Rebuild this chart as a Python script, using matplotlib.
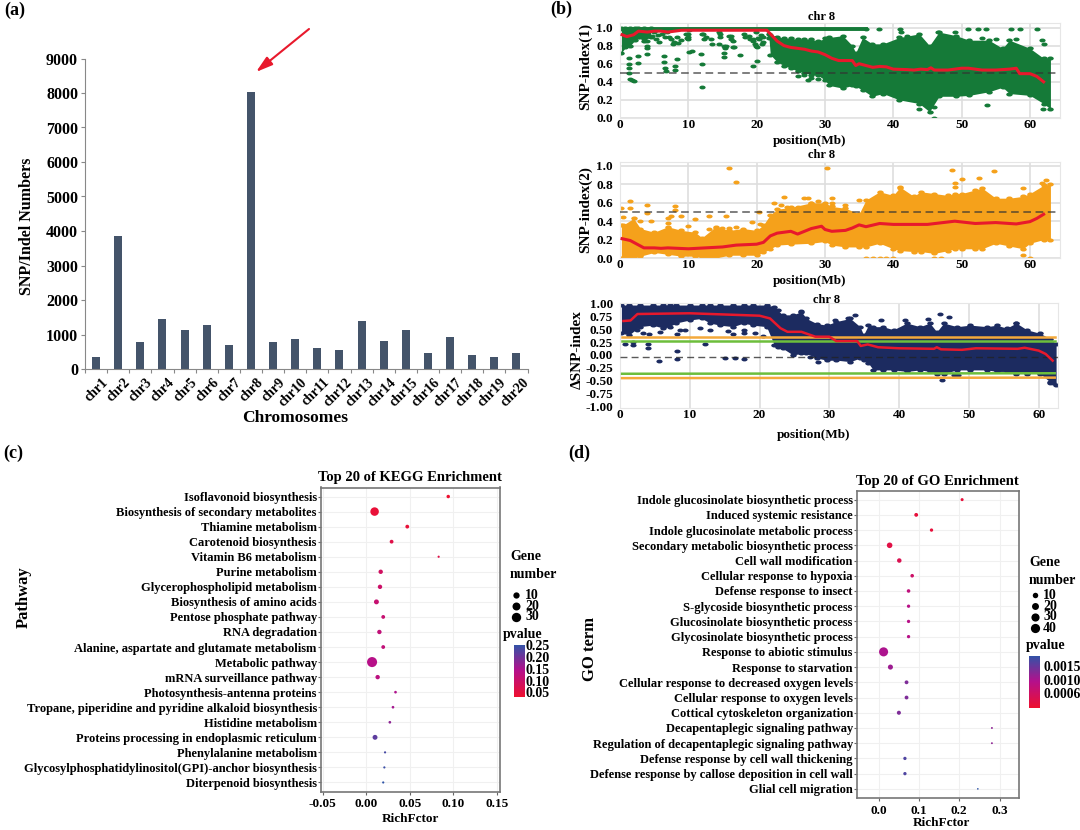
import numpy as np
import matplotlib
matplotlib.use("Agg")
import matplotlib.pyplot as plt
from matplotlib.colors import LinearSegmentedColormap
from matplotlib.path import Path
from matplotlib.transforms import Affine2D

plt.rcParams['font.family'] = ['Liberation Serif', 'DejaVu Sans']
plt.rcParams['font.weight'] = 'bold'
plt.rcParams['axes.labelweight'] = 'bold'

W, H = 1080, 830

# panel a
chromosomes = ['chr' + str(i) for i in range(1, 21)]
snp_counts = [350, 3850, 780, 1450, 1120, 1270, 710, 8020, 780, 860,
              610, 550, 1400, 800, 1140, 470, 930, 400, 340, 450]

# panel b, SNP-index(1): dense cloud edges and single points
s1_early_x = [0.2, 0.8, 1.5, 2.2, 2.6, 3.5, 4.5]
s1_early_up = [0.99, 0.99, 0.99, 0.99, 0.99, 0.99, 0.99]
s1_early_low = [0.72, 0.78, 0.80, 0.86, 0.90, 0.85, 0.90]
s1_x = [21.8, 22, 23, 24, 25, 26, 27, 28, 29, 30, 30.6, 32.6, 34, 34.5, 35.5, 36.9, 38.5,
        40.9, 43.8, 45.3, 46.7, 49.2, 51.1, 54, 56, 57, 60, 62, 63]
s1_up = [0.93, 0.92, 0.9, 0.88, 0.88, 0.87, 0.87, 0.87, 0.85, 0.88, 0.89, 0.91, 0.80, 0.72, 0.89, 0.82, 0.82,
         0.89, 0.93, 0.80, 0.95, 0.91, 0.86, 0.86, 0.77, 0.86, 0.77, 0.66, 0.66]
s1_low = [0.88, 0.70, 0.62, 0.58, 0.55, 0.52, 0.5, 0.48, 0.47, 0.42, 0.36, 0.33, 0.36, 0.35, 0.31, 0.24, 0.27,
          0.20, 0.16, 0.07, 0.24, 0.24, 0.25, 0.29, 0.34, 0.27, 0.25, 0.16, 0.10]
s1_pts_x = [1.3, 1.3, 1.3, 1.3, 1.5, 1.8, 2.0, 2.7, 2.7, 4, 4, 6.5, 6.5, 6.6, 6.7, 8, 8, 8.4, 10.1, 10.6, 11.8, 12, 12, 15.2, 15.2, 17.5, 19.4, 20,
            4.7, 5.2, 5.7, 5, 6.9, 7.2, 7.7, 8.4, 9.6, 9.9, 10.1, 12, 12.3, 13.3, 13.5, 14.5, 14.7, 14.5, 15.2, 16, 16.2, 16.7, 18.2, 18.9, 19.4, 19.9, 20.4, 20.8, 19.9,
            4, 4, 3.5, 3, 5.5, 6.2, 6.6, 7.4, 7.9, 8.5, 9, 10, 10, 9.8, 12.2, 12.6, 14.6, 16.2, 16.5, 15.5, 15.4, 16.5, 18.3, 19, 19.5, 19.8, 20.2, 20.6, 21, 21, 20,
            43.8, 46, 46, 53.7, 61.9, 41.2, 46.5, 49, 42, 53, 55.1, 58, 61.7, 62, 26, 27, 28, 29, 27.5]
s1_pts_y = [0.66, 0.6, 0.55, 0.5, 0.43, 0.42, 0.41, 0.68, 0.61, 0.77, 0.71, 0.69, 0.62, 0.55, 0.52, 0.57, 0.53, 0.65, 0.73, 0.74, 0.71, 0.6, 0.34, 0.72, 0.67, 0.70, 0.58, 0.63,
            0.91, 0.875, 0.84, 0.95, 0.95, 0.89, 0.82, 0.89, 0.93, 0.87, 0.97, 0.93, 0.87, 0.87, 0.82, 0.95, 0.89, 0.82, 0.80, 0.91, 0.875, 0.78, 0.93, 0.91, 0.875, 0.95, 0.875, 0.82, 0.80,
            0.85, 0.8, 0.88, 0.9, 0.92, 0.93, 0.9, 0.87, 0.84, 0.83, 0.86, 0.93, 0.9, 0.88, 0.93, 0.9, 0.93, 0.91, 0.85, 0.8, 0.77, 0.78, 0.9, 0.87, 0.85, 0.82, 0.88, 0.92, 0.9, 0.84, 0.78,
            0.10, 0.0, 0.12, 0.14, 0.10, 0.95, 0.95, 0.95, 0.91, 0.88, 0.87, 0.87, 0.86, 0.82, 0.46, 0.47, 0.44, 0.43, 0.42]
s1_top_x = [0.3, 36, 37.9, 41, 50.9, 52.4, 53.6, 57.3, 58.6, 61]
s1_top_y = [0.985, 0.985, 0.98, 0.98, 0.98, 0.98, 0.98, 0.98, 0.98, 0.98]
s1_line_x = [0.3, 1, 1.5, 2, 2.7, 4, 5, 6, 7, 8, 9, 21.5, 22, 23, 24, 25, 26, 27, 28, 29, 30, 31, 32, 33, 34, 34.5, 35, 36, 37, 38, 39,
             40, 42, 43, 44, 45, 45.5, 46, 48, 50, 51, 53, 55, 57, 58, 58.5, 60, 61, 62]
s1_line_y = [0.92, 0.9, 0.91, 0.92, 0.96, 0.95, 0.96, 0.96, 0.95, 0.96, 0.97, 0.97, 0.93, 0.85, 0.80, 0.78, 0.77, 0.76, 0.74, 0.73, 0.70, 0.66, 0.635, 0.635, 0.635, 0.58, 0.6, 0.58, 0.56, 0.57, 0.565,
             0.54, 0.535, 0.53, 0.54, 0.535, 0.555, 0.53, 0.53, 0.55, 0.55, 0.53, 0.53, 0.54, 0.55, 0.49, 0.49, 0.46, 0.40]

# panel b, SNP-index(2)
s2_x = [0.2, 0.5, 2, 3, 5, 7, 9, 11, 12, 14, 16, 18, 20, 21, 22, 23, 25, 28, 30, 31, 33, 35, 36, 38, 40, 41, 43, 44, 46, 48, 49, 50, 52, 53, 55, 57, 59, 60, 62, 63]
s2_up = [0.36, 0.36, 0.43, 0.32, 0.28, 0.34, 0.30, 0.28, 0.22, 0.34, 0.30, 0.32, 0.30, 0.36, 0.47, 0.53, 0.55, 0.60, 0.60, 0.56, 0.54, 0.48, 0.63, 0.72, 0.68, 0.77, 0.67, 0.72, 0.70, 0.68, 0.70, 0.70, 0.74, 0.76, 0.65, 0.65, 0.67, 0.70, 0.79, 0.80]
s2_low = [0.0, 0.0, 0.0, 0.02, 0.06, 0.04, 0.02, 0.02, 0.0, 0.0, 0.03, 0.03, 0.03, 0.06, 0.1, 0.14, 0.15, 0.16, 0.18, 0.14, 0.12, 0.12, 0.12, 0.16, 0.10, 0.08, 0.07, 0.07, 0.05, 0.08, 0.10, 0.10, 0.10, 0.10, 0.16, 0.13, 0.10, 0.16, 0.20, 0.20]
s2_pts_x = [16, 17, 1.5, 4, 8, 1.5, 0.2, 4, 8, 7.5, 9, 7, 7, 4.5, 3, 0.5, 11, 13, 15.5, 10, 13, 14, 15, 16, 17, 19.3, 20.3, 20.5, 21.5, 22.5, 23.5, 24, 24.5, 26, 27, 27.5, 28, 29, 30.3, 31, 31, 33, 35,
            48.6, 54.8, 52.5, 50, 49, 49, 41, 59, 62.4, 61.7, 36, 37, 38, 39, 40, 46, 47, 59, 60]
s2_pts_y = [0.98, 0.83, 0.62, 0.58, 0.57, 0.54, 0.54, 0.49, 0.52, 0.46, 0.46, 0.43, 0.38, 0.40, 0.40, 0.45, 0.42, 0.46, 0.46, 0.35, 0.32, 0.33, 0.33, 0.33, 0.34, 0.39, 0.50, 0.37, 0.36, 0.60, 0.58, 0.66, 0.55, 0.55, 0.65, 0.65, 0.60, 0.62, 0.98, 0.65, 0.60, 0.58, 0.63,
            0.957, 0.945, 0.873, 0.86, 0.82, 0.775, 0.765, 0.76, 0.85, 0.81, 0.0, 0.0, 0.0, 0.0, 0.0, 0.0, 0.0, 0.03, 0.0]
s2_line_x = [0.3, 1.5, 2.5, 3.5, 5, 6, 7, 10, 15, 17, 20, 21, 22, 23, 25, 26, 28, 29.5, 30, 31, 33, 34, 35, 36, 38, 40, 45, 49, 52, 55, 58, 60, 61, 62]
s2_line_y = [0.21, 0.19, 0.15, 0.11, 0.11, 0.105, 0.11, 0.10, 0.12, 0.14, 0.15, 0.17, 0.24, 0.27, 0.29, 0.26, 0.32, 0.345, 0.31, 0.29, 0.30, 0.326, 0.36, 0.34, 0.375, 0.365, 0.365, 0.40, 0.375, 0.385, 0.37, 0.395, 0.43, 0.475]

# panel b, delta SNP-index
s3_x = [0.2, 1.3, 2.8, 4.7, 6.2, 7.1, 8, 10, 11.7, 12.9, 14.3, 16.2, 17.7, 19, 21, 22.1, 22.6, 23.3, 24.8, 26, 26.7, 28.2, 29.6, 31, 33, 34.4, 34.9, 35.6, 36.3, 37.7, 39.2, 41.1, 43, 44.4, 45.4, 46.4, 48.3, 50.2, 52.6, 54, 55.4, 56.8, 58.3, 60.2, 61.6, 62.5]
s3_up = [0.97, 0.97, 0.97, 0.97, 0.97, 0.97, 0.97, 0.97, 0.97, 0.97, 0.97, 0.97, 0.97, 0.97, 0.97, 0.94, 0.87, 0.78, 0.78, 0.84, 0.71, 0.61, 0.58, 0.65, 0.71, 0.55, 0.39, 0.58, 0.55, 0.55, 0.49, 0.62, 0.55, 0.62, 0.45, 0.62, 0.55, 0.58, 0.55, 0.58, 0.52, 0.62, 0.49, 0.42, 0.32, 0.22]
s3_low = [0.42, 0.39, 0.55, 0.58, 0.52, 0.55, 0.62, 0.68, 0.71, 0.62, 0.58, 0.55, 0.62, 0.58, 0.55, 0.2, 0.16, 0.13, 0.0, 0.03, 0.03, -0.06, -0.1, -0.1, -0.13, -0.06, -0.09, -0.16, -0.29, -0.29, -0.29, -0.32, -0.29, -0.32, -0.36, -0.36, -0.29, -0.29, -0.29, -0.32, -0.32, -0.36, -0.36, -0.36, -0.52, -0.58]
s3_pts_x = [0.7, 1.9, 1.8, 4, 4, 3.3, 4.2, 2.4, 5.7, 8.1, 8.1, 8.1, 5.6, 12.2, 8.6, 9.3, 11.5, 12.9, 15.5, 16.2, 17.7, 17.7, 19.3, 20.5, 15, 16.5, 17.7,
            26, 27.2, 28.4, 30.3, 45.8, 47.2, 40.8, 37.4, 44.1, 56.8, 46.2, 47.8, 48.5, 61.6, 62.1, 33.7, 32.7, 30.8]
s3_pts_y = [0.21, 0.2, 0.26, 0.21, 0.14, 0.42, 0.40, 0.49, 0.44, 0.40, 0.07, -0.08, -0.11, 0.21, 0.49, 0.49, 0.52, 0.49, 0.47, 0.40, 0.49, 0.42, 0.42, 0.36, -0.05, -0.05, -0.07,
            0.86, -0.03, -0.13, -0.05, 0.79, 0.74, 0.68, 0.68, 0.69, 0.62, -0.49, -0.39, -0.39, -0.55, -0.55, 0.77, 0.71, 0.68]
s3_line_x = [0.5, 1.5, 2.5, 10, 20, 21.5, 23, 24, 26, 28, 30, 31, 34, 34.5, 35.5, 37, 40, 45, 45.4, 46, 49, 51, 57, 58, 60, 61, 62]
s3_line_y = [0.66, 0.67, 0.796, 0.81, 0.763, 0.71, 0.52, 0.45, 0.45, 0.355, 0.355, 0.27, 0.27, 0.175, 0.205, 0.15, 0.13, 0.12, 0.15, 0.11, 0.10, 0.13, 0.12, 0.14, 0.085, 0.02, -0.11]
thresh_x = [0.3, 62.3]
orange_upper = [0.355, 0.355]
green_upper = [0.27, 0.27]
green_lower = [-0.365, -0.355]
orange_lower = [-0.45, -0.44]

# panel c
kegg_terms = ['Isoflavonoid biosynthesis', 'Biosynthesis of secondary metabolites', 'Thiamine metabolism',
              'Carotenoid biosynthesis', 'Vitamin B6 metabolism', 'Purine metabolism', 'Glycerophospholipid metabolism',
              'Biosynthesis of amino acids', 'Pentose phosphate pathway', 'RNA degradation',
              'Alanine, aspartate and glutamate metabolism', 'Metabolic pathway', 'mRNA surveillance pathway',
              'Photosynthesis-antenna proteins', 'Tropane, piperidine and pyridine alkaloid biosynthesis',
              'Histidine metabolism', 'Proteins processing in endoplasmic reticulum', 'Phenylalanine metabolism',
              'Glycosylphosphatidylinositol(GPI)-anchor biosynthesis', 'Diterpenoid biosynthesis']
kegg_rich = [0.094, 0.0095, 0.047, 0.029, 0.083, 0.0165, 0.0157, 0.0116, 0.0194, 0.015,
             0.0194, 0.0066, 0.013, 0.0335, 0.0306, 0.027, 0.01, 0.0215, 0.0207, 0.0194]
kegg_genes = [5, 30, 6, 6, 2, 8, 8, 10, 6, 8, 6, 42, 8, 3, 3, 3, 10, 2, 2, 2]
kegg_p = [0.02, 0.03, 0.03, 0.05, 0.05, 0.08, 0.09, 0.10, 0.10, 0.11,
          0.11, 0.13, 0.12, 0.14, 0.15, 0.17, 0.21, 0.23, 0.24, 0.25]

# panel d
go_terms = ['Indole glucosinolate biosynthetic process', 'Induced systemic resistance',
            'Indole glucosinolate metabolic process', 'Secondary metabolic biosynthetic process',
            'Cell wall modification', 'Cellular response to hypoxia', 'Defense response to insect',
            'S-glycoside biosynthetic process', 'Glucosinolate biosynthetic process',
            'Glycosinolate biosynthetic process', 'Response to abiotic stimulus', 'Response to starvation',
            'Cellular response to decreased oxygen levels', 'Cellular response to oxygen levels',
            'Cottical cytoskeleton organization', 'Decapentaplegic signaling pathway',
            'Regulation of decapentaplegic signaling pathway', 'Defense response by cell wall thickening',
            'Defense response by callose deposition in cell wall', 'Glial cell migration']
go_rich = [0.207, 0.093, 0.131, 0.027, 0.051, 0.083, 0.074, 0.074, 0.074, 0.074,
           0.012, 0.029, 0.069, 0.069, 0.05, 0.281, 0.281, 0.065, 0.065, 0.246]
go_genes = [5, 8, 6, 17, 11, 7, 7, 6, 6, 6, 45, 14, 8, 8, 9, 2, 2, 6, 6, 1.5]
go_p = [0.0003, 0.0003, 0.0003, 0.0004, 0.0005, 0.0007, 0.0009, 0.0010, 0.0010, 0.0010,
        0.0011, 0.0012, 0.0014, 0.0014, 0.0014, 0.0013, 0.0013, 0.0017, 0.0017, 0.0019]

RED = '#E8192C'
GREEN = '#157A38'
ORANGE = '#F5A11B'
NAVY = '#1C2B60'
pcmap = LinearSegmentedColormap.from_list('p', ['#EE1030', '#B5108C', '#2F55A8'])
# the dots in the (b) panels are squashed, wider than tall
BLOB = Path.unit_circle().transformed(Affine2D().scale(1.0, 0.62))


def axes_px(fig, left, top, right, bottom):
    return fig.add_axes([left / W, 1 - bottom / H, (right - left) / W, (bottom - top) / H])


def text_px(fig, x, y, s, **kw):
    kw.setdefault('ha', 'center')
    kw.setdefault('va', 'center')
    fig.text(x / W, 1 - y / H, s, **kw)


def snp_panel(fig, top, bottom, right, xlim, ylim, yticks, ylabels, grid_c='#dedede'):
    ax = axes_px(fig, 620, top, right, bottom)
    ax.set_xlim(*xlim)
    ax.set_ylim(*ylim)
    ax.set_xticks([0, 10, 20, 30, 40, 50, 60])
    ax.set_yticks(yticks)
    ax.set_yticklabels(ylabels)
    ax.tick_params(axis='y', length=0, labelsize=9.5, pad=5)
    ax.tick_params(axis='x', length=0, labelsize=9.5, pad=1)
    ax.grid(True, color=grid_c, lw=1.2)
    ax.set_axisbelow(True)
    for sp in ax.spines.values():
        sp.set_color('#e6e6e6')
    return ax


def cloud(ax, x, low, up, color):
    ax.fill_between(x, low, up, color=color, lw=0, zorder=2)
    ax.scatter(x, up, s=22, marker=BLOB, color=color, lw=0, zorder=2)
    ax.scatter(x, low, s=22, marker=BLOB, color=color, lw=0, zorder=2)


fig = plt.figure(figsize=(W / 100, H / 100), dpi=100)

# (a) bars
ax = axes_px(fig, 85, 58.5, 527.5, 369)
ax.bar(range(20), snp_counts, width=0.36, color='#44546A')
ax.set_xlim(-0.5, 19.5)
ax.set_ylim(0, 9000)
ax.set_yticks(range(0, 9001, 1000))
ax.set_xticks(np.arange(-0.5, 20))
ax.set_xticklabels([])
ax.tick_params(axis='both', length=3, width=0.8, color='#888888', labelsize=11.5, pad=2)
for sp in ['top', 'right']:
    ax.spines[sp].set_visible(False)
for sp in ['left', 'bottom']:
    ax.spines[sp].set_color('#888888')
for i, name in enumerate(chromosomes):
    ax.annotate(name, (i, 0), xytext=(4, -5), textcoords='offset points', rotation=45, ha='right', va='top',
                rotation_mode='anchor', fontsize=10)
ax.annotate('', xy=(256 / W, 1 - 72 / H), xytext=(309 / W, 1 - 29 / H), xycoords='figure fraction',
            textcoords='figure fraction',
            arrowprops=dict(arrowstyle='-|>,head_width=0.3,head_length=1.0', color=RED, lw=1.5, shrinkA=0, shrinkB=0))
text_px(fig, 27, 226, 'SNP/Indel Numbers', rotation=90, fontsize=11.5)
text_px(fig, 295, 418, 'Chromosomes', fontsize=12.5)

# (b) SNP-index(1)
yt = [0, 0.2, 0.4, 0.6, 0.8, 1.0]
yl = ['0.0', '0.2', '0.4', '0.6', '0.8', '1.0']
ax = snp_panel(fig, 23, 118, 1060, (0, 64.4), (0, 1.05), yt, yl)
cloud(ax, s1_early_x, s1_early_low, s1_early_up, GREEN)
cloud(ax, s1_x, s1_low, s1_up, GREEN)
ax.scatter(s1_pts_x, s1_pts_y, s=20, marker=BLOB, color=GREEN, lw=0, zorder=2)
ax.plot(s1_top_x[:2], s1_top_y[:2], color=GREEN, lw=2.8, zorder=2)
ax.scatter(s1_top_x, s1_top_y, s=20, marker=BLOB, color=GREEN, lw=0, zorder=2)
ax.axhline(0.5, color='#333333', ls=(0, (5, 3)), lw=1.1, alpha=0.8, zorder=3)
ax.plot(s1_line_x, s1_line_y, color=RED, lw=2.2, zorder=4)
text_px(fig, 822, 17, 'chr 8', fontsize=9)
text_px(fig, 810, 141, 'position(Mb)', fontsize=9.5)
text_px(fig, 585, 66, 'SNP-index(1)', rotation=90, fontsize=11)

# (b) SNP-index(2)
ax = snp_panel(fig, 162, 258, 1060, (0, 64.4), (0, 1.043), yt, yl)
cloud(ax, s2_x, s2_low, s2_up, ORANGE)
ax.scatter(s2_pts_x, s2_pts_y, s=20, marker=BLOB, color=ORANGE, lw=0, zorder=2)
ax.axhline(0.5, color='#333333', ls=(0, (5, 3)), lw=1.1, alpha=0.8, zorder=3)
ax.plot(s2_line_x, s2_line_y, color=RED, lw=2.2, zorder=4)
text_px(fig, 822, 155, 'chr 8', fontsize=9)
text_px(fig, 810, 281, 'position(Mb)', fontsize=9.5)
text_px(fig, 585, 210, 'SNP-index(2)', rotation=90, fontsize=11)

# (b) delta SNP-index
yt3 = [1.0, 0.75, 0.5, 0.25, 0, -0.25, -0.5, -0.75, -1.0]
yl3 = ['1.00', '0.75', '0.50', '0.25', '0.00', '-0.25', '-0.50', '-0.75', '-1.00']
ax = snp_panel(fig, 303.5, 408, 1057.5, (0, 62.7), (-1.03, 1.0), yt3, yl3)
ax.grid(False, axis='y')
cloud(ax, s3_x, s3_low, s3_up, NAVY)
ax.scatter(s3_pts_x, s3_pts_y, s=20, marker=BLOB, color=NAVY, lw=0, zorder=2)
ax.plot(thresh_x, orange_upper, color='#F4A93B', lw=1.8, zorder=3)
ax.plot(thresh_x, orange_lower, color='#F4A93B', lw=1.8, zorder=3)
ax.plot(thresh_x, green_upper, color='#6DBE3C', lw=1.8, zorder=3)
ax.plot(thresh_x, green_lower, color='#6DBE3C', lw=1.8, zorder=3)
ax.axhline(-0.045, color='#222222', ls=(0, (5, 3)), lw=1.0, alpha=0.75, zorder=3)
ax.plot(s3_line_x, s3_line_y, color=RED, lw=1.8, zorder=4)
text_px(fig, 827, 300, 'chr 8', fontsize=9)
text_px(fig, 814, 435, 'position(Mb)', fontsize=9.5)
text_px(fig, 577, 350, 'ΔSNP-index', rotation=90, fontsize=11)


def bubble_panel(fig, box, terms, rich, genes, pvals, xlim, xticks, xlabels, size_k, pnorm):
    ax = axes_px(fig, *box)
    y = np.arange(len(terms))
    ax.scatter(rich, y, s=np.array(genes) * size_k, c=pvals, cmap=pcmap, vmin=pnorm[0], vmax=pnorm[1], lw=0, zorder=3)
    ax.set_xlim(*xlim)
    ax.set_ylim(len(terms) - 0.4, -0.6)
    ax.set_yticks(y)
    ax.set_yticklabels(terms)
    ax.set_xticks(xticks)
    ax.set_xticklabels(xlabels)
    ax.tick_params(axis='y', length=2, width=0.8, color='#666666', labelsize=9, pad=1)
    ax.tick_params(axis='x', length=2, width=0.8, color='#666666', labelsize=9.5, pad=3)
    ax.grid(True, color='#f0f0f0', lw=0.8, zorder=0)
    ax.set_axisbelow(True)
    for sp in ax.spines.values():
        sp.set_color('#777777')
        sp.set_linewidth(1.2)
    return ax


# (c)
bubble_panel(fig, (321, 487.5, 500, 791.5), kegg_terms, kegg_rich, kegg_genes, kegg_p, (-0.052, 0.1534),
             [-0.05, 0, 0.05, 0.10, 0.15], ['-0.05', '0.00', '0.05', '0.10', '0.15'], 1.25, (0.02, 0.25))
text_px(fig, 410, 477, 'Top 20 of KEGG Enrichment', fontsize=10.5)
text_px(fig, 410, 819, 'RichFctor', fontsize=9.5)
text_px(fig, 24, 597, 'Pathway', rotation=90, fontsize=12)
text_px(fig, 510, 556, 'Gene', ha='left', fontsize=10)
text_px(fig, 510, 574, 'number', ha='left', fontsize=10)
text_px(fig, 503, 634, 'pvalue', ha='left', fontsize=10)
leg = fig.add_axes([0, 0, 1, 1], facecolor='none')
leg.set_xlim(0, W)
leg.set_ylim(H, 0)
leg.axis('off')
for g, yy in zip([10, 20, 30], [595, 606, 617]):
    leg.scatter([516], [yy], s=g * 1.25 + 8, color='black', lw=0)
    text_px(fig, 525, yy, str(g), ha='left', fontsize=10)
cax = axes_px(fig, 514, 644.5, 525, 697)
cax.imshow(np.linspace(1, 0, 100).reshape(-1, 1), cmap=pcmap, aspect='auto')
cax.axis('off')
for lab, yy in zip(['0.25', '0.20', '0.15', '0.10', '0.05'], [647, 658, 670, 682, 693]):
    text_px(fig, 526, yy, lab, ha='left', fontsize=10)

# (d)
bubble_panel(fig, (857, 490.5, 1018.5, 798), go_terms, go_rich, go_genes, go_p, (-0.054, 0.347),
             [0, 0.1, 0.2, 0.3], ['0.0', '0.1', '0.2', '0.3'], 0.95, (0.0002, 0.0019))
text_px(fig, 937, 481, 'Top 20 of GO Enrichment', fontsize=10.5)
text_px(fig, 941, 823, 'RichFctor', fontsize=9.5)
text_px(fig, 590, 649, 'GO term', rotation=90, fontsize=12)
text_px(fig, 1029, 563, 'Gene', ha='left', fontsize=10)
text_px(fig, 1029, 581, 'number', ha='left', fontsize=10)
text_px(fig, 1026, 645, 'pvalue', ha='left', fontsize=10)
for g, yy in zip([10, 20, 30, 40], [595, 606, 617, 628]):
    leg.scatter([1035], [yy], s=g * 0.95 + 6, color='black', lw=0)
    text_px(fig, 1043, yy, str(g), ha='left', fontsize=10)
cax = axes_px(fig, 1029, 655.5, 1040, 708)
cax.imshow(np.linspace(1, 0, 100).reshape(-1, 1), cmap=pcmap, aspect='auto')
cax.axis('off')
for lab, yy in zip(['0.0015', '0.0010', '0.0006'], [667, 681, 694]):
    text_px(fig, 1043, yy, lab, ha='left', fontsize=9.8)

# panel letters
text_px(fig, 4, 10, '(a)', ha='left', fontsize=13)
text_px(fig, 550, 9, '(b)', ha='left', fontsize=13)
text_px(fig, 3, 453, '(c)', ha='left', fontsize=13)
text_px(fig, 568, 453, '(d)', ha='left', fontsize=13)

fig.savefig('out.png', dpi=100)
